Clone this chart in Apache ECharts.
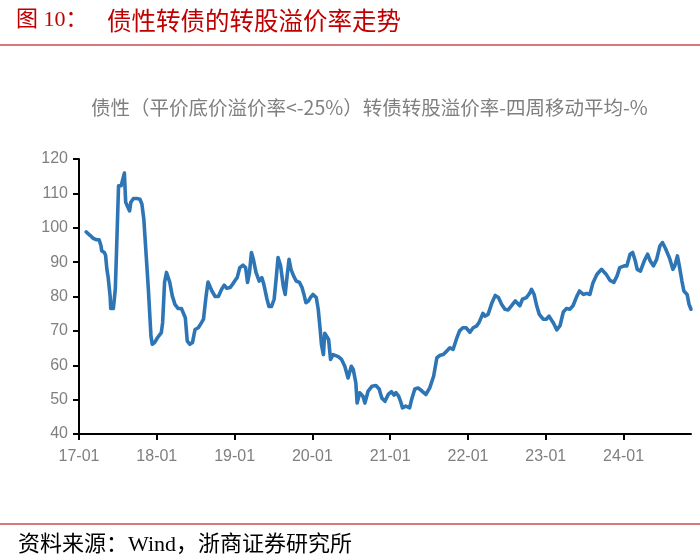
<!DOCTYPE html>
<html>
<head>
<meta charset="utf-8">
<script src="https://cdn.jsdelivr.net/npm/echarts@6/dist/echarts.min.js"></script>
<style>html,body{margin:0;padding:0;background:#fff;}#c{width:700px;height:560px;}</style>
</head>
<body>
<div id="c"></div>
<script>
// x position: months since 2017-01
var months = [1.1,1.7,2.2,2.7,3.1,3.4,3.5,3.9,4.1,4.3,4.5,4.8,4.9,5.3,5.6,5.8,6.1,6.5,6.7,7.0,7.2,7.5,7.8,8.0,8.4,8.9,9.4,9.7,10.0,10.3,10.7,11.1,11.3,11.7,12.1,12.7,12.9,13.2,13.5,13.8,14.0,14.4,14.8,15.3,15.8,16.4,16.7,17.1,17.5,17.9,18.4,18.9,19.2,19.6,19.9,20.5,21.0,21.5,22.0,22.4,22.8,23.3,23.7,24.1,24.4,24.8,25.3,25.7,26.0,26.3,26.6,26.9,27.3,27.5,27.8,28.2,28.5,29.0,29.3,29.7,30.1,30.4,30.7,31.1,31.5,31.8,32.1,32.4,32.7,33.1,33.5,34.0,34.4,34.7,35.0,35.4,35.7,36.1,36.6,36.9,37.2,37.4,37.7,37.9,38.5,38.8,39.2,40.0,40.5,41.0,41.5,42.0,42.3,42.7,42.9,43.3,43.8,44.1,44.6,45.2,45.8,46.3,46.7,47.2,47.7,48.2,48.6,48.9,49.3,49.6,49.9,50.4,51.0,51.3,51.8,52.3,52.9,53.5,54.1,54.7,55.2,55.7,56.2,56.7,57.2,57.7,58.2,58.7,59.2,59.7,60.3,60.8,61.3,61.7,62.3,62.6,63.1,63.7,64.2,64.7,65.2,65.7,66.2,66.7,67.3,67.6,68.0,68.4,69.0,69.5,69.8,70.2,70.6,71.0,71.6,72.1,72.5,73.2,73.7,74.2,74.7,75.2,75.7,76.2,76.8,77.2,77.8,78.3,78.8,79.3,79.9,80.6,81.3,81.9,82.5,83.0,83.4,84.1,84.5,85.0,85.4,85.8,86.1,86.6,87.2,87.7,88.1,88.6,89.1,89.6,90.0,90.5,91.1,91.6,91.9,92.3,92.6,93.0,93.3,93.8,94.1,94.4];
var premium = [98.8,97.8,96.9,96.5,96.5,94.7,93.3,92.8,92.0,87.9,85.5,80.1,76.5,76.5,82.1,93.8,112.2,112.2,113.7,115.9,107.4,106.9,104.9,107.4,108.5,108.5,108.3,106.9,102.5,93.8,82.1,68.5,66.1,66.7,68.0,69.5,72.4,84.1,87.0,87.4,84.1,80.1,77.7,76.5,76.5,73.8,67.0,66.1,66.6,70.4,70.9,72.4,73.4,80.1,84.2,81.6,80.0,80.0,82.1,83.3,82.4,82.6,83.6,84.7,85.5,88.4,89.1,88.4,84.1,87.0,92.8,90.8,87.0,86.5,84.5,85.5,83.6,79.2,77.1,77.1,79.2,85.0,91.3,88.9,83.1,80.6,86.0,90.8,87.9,86.0,84.5,84.1,82.6,80.6,78.2,78.7,79.7,80.6,79.7,76.3,70.4,66.0,63.1,69.3,67.5,61.7,63.1,62.5,61.7,59.7,56.3,59.7,58.8,54.9,49.0,52.0,51.0,49.0,52.5,53.9,54.1,53.1,50.5,49.5,51.5,52.3,51.3,52.0,51.0,49.5,47.6,48.1,47.6,50.0,53.1,53.4,52.5,51.5,53.4,56.8,62.2,62.9,63.1,64.1,65.1,64.6,67.5,70.0,70.9,70.9,69.6,70.9,71.4,72.4,75.1,74.3,74.8,78.2,80.3,79.7,77.7,76.3,76.1,77.3,78.7,79.2,77.3,79.2,79.7,80.9,82.1,80.6,77.3,74.8,73.4,73.4,74.3,72.2,70.3,71.5,75.5,76.5,76.3,77.3,80.1,81.6,80.6,80.9,80.6,84.1,86.5,87.9,86.5,84.7,84.1,86.0,88.4,88.9,88.9,92.3,92.8,90.4,87.9,87.4,90.4,92.3,90.4,88.9,90.8,94.7,95.7,93.8,91.1,87.9,88.9,91.8,88.9,84.5,81.6,80.6,77.7,76.3];
var tickMonths = [0,12,24,36,48,60,72,84];
var tickLabels = ['17-01','18-01','19-01','20-01','21-01','22-01','23-01','24-01'];

var chart = echarts.init(document.getElementById('c'), null, {renderer:'canvas'});
var pts = months.map(function(m,i){return [m, premium[i]];});
var labelFont = '"Liberation Sans", "Noto Sans CJK SC", sans-serif';
chart.setOption({
  animation: false,
  backgroundColor: '#fff',
  grid: {left: 79, right: 9, top: 159, bottom: 126, containLabel: false, outerBoundsMode: 'none'},
  xAxis: {
    type: 'value', min: 0, max: 94.4, interval: 12,
    axisLine: {show: true, lineStyle: {color: '#000', width: 2}},
    axisTick: {show: true, length: 6, lineStyle: {color: '#000', width: 2}, customValues: tickMonths},
    splitLine: {show: false},
    axisLabel: {
      color: '#7f7f7f', fontSize: 16, fontFamily: labelFont, margin: 15,
      customValues: tickMonths,
      formatter: function(v){ var i = tickMonths.indexOf(Math.round(v)); return (i >= 0 && Math.abs(v - tickMonths[i]) < 0.01) ? tickLabels[i] : ''; }
    }
  },
  yAxis: {
    type: 'value', min: 40, max: 120, interval: 10,
    axisLine: {show: true, lineStyle: {color: '#000', width: 2}},
    axisTick: {show: true, length: 6, lineStyle: {color: '#000', width: 2}},
    splitLine: {show: false},
    axisLabel: {color: '#7f7f7f', fontSize: 16, fontFamily: labelFont, margin: 11}
  },
  series: [{
    type: 'line', data: pts, showSymbol: false, symbol: 'none',
    lineStyle: {color: '#2e75b6', width: 3.6, join: 'round', cap: 'round'},
    z: 3
  }],
  graphic: [
    {type: 'text', left: 16, top: 9, style: {text: '图 10：', fill: '#c00000', font: '22px "Liberation Serif", "Noto Sans CJK SC"'}},
    {type: 'text', left: 107, top: 8, style: {text: '债性转债的转股溢价率走势', fill: '#c00000', font: '24.5px "Noto Sans CJK SC"'}},
    {type: 'rect', left: 0, top: 44, shape: {width: 700, height: 2}, style: {fill: '#d47a7a'}},
    {type: 'text', left: 91, top: 98, style: {text: '债性（平价底价溢价率<-25%）转债转股溢价率-四周移动平均-%', fill: '#7f7f7f', font: '19.5px "Noto Sans CJK SC"'}},
    {type: 'rect', left: 0, top: 523, shape: {width: 700, height: 2}, style: {fill: '#d47a7a'}},
    {type: 'text', left: 18, top: 534, style: {text: '资料来源：Wind，浙商证券研究所', fill: '#000', font: '22px "Liberation Serif", "Noto Sans CJK SC"'}}
  ]
});
</script>
</body>
</html>
